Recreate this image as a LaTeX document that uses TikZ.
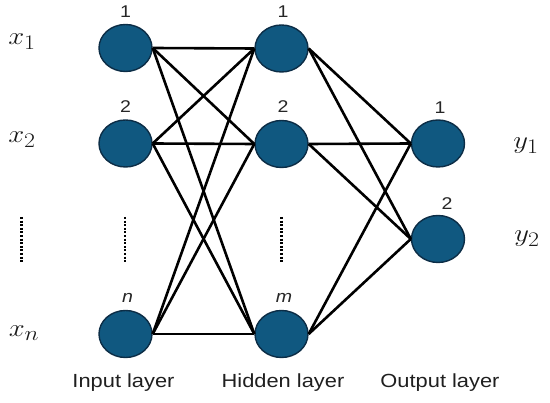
\documentclass[tikz,border=0pt]{standalone}
\usepackage{fontspec}
\setsansfont{Liberation Sans}
\usetikzlibrary{shapes.geometric}
\definecolor{neuronfill}{RGB}{16,88,128}
\definecolor{neurondraw}{RGB}{12,45,70}
\tikzset{
  neuron/.style={ellipse, draw=neurondraw, fill=neuronfill, line width=1.4pt, minimum width=53pt, minimum height=47pt, inner sep=0pt},
  conn/.style={line width=2.6pt, black},
  numlab/.style={font=\sffamily\fontsize{17}{19}\selectfont, inner sep=0pt, text=black!85},
  varlab/.style={font=\fontsize{29}{32}\selectfont, inner sep=0pt, text=black!90},
  layerlab/.style={font=\sffamily\fontsize{19}{22}\selectfont, inner sep=0pt, text=black!88},
  vdots/.style={line width=2.8pt, dash pattern=on 2pt off 1.6pt}
}
\newcommand{\hs}[1]{\scalebox{1.15}[1]{#1}}
\begin{document}
\begin{tikzpicture}[x=1pt,y=-1pt]
\useasboundingbox (0,0) rectangle (550,403);
% nodes
\node[neuron] (i1) at (125.5,48) {};
\node[neuron] (i2) at (125.5,143.5) {};
\node[neuron] (in) at (125.5,334) {};
\node[neuron] (h1) at (281.5,48.5) {};
\node[neuron] (h2) at (281.5,144) {};
\node[neuron] (hm) at (281.5,334) {};
\node[neuron] (o1) at (438,143.5) {};
\node[neuron] (o2) at (438,239) {};
% connections input -> hidden
\foreach \a in {i1,i2,in}{
  \foreach \b in {h1,h2,hm}{
    \draw[conn] (\a.east) -- (\b.west);
  }
}
% hidden -> output
\foreach \a in {h1,h2,hm}{
  \foreach \b in {o1,o2}{
    \draw[conn] (\a.east) -- (\b.west);
  }
}
% number labels
\node[numlab] (li1) at (125.5,12) {\hs{1}};
\node[numlab] (li2) at (125.5,107) {\hs{2}};
\node[numlab] (lin) at (127.5,298) {\hs{\itshape n}};
\node[numlab] (lh1) at (283,12) {\hs{1}};
\node[numlab] (lh2) at (283,107) {\hs{2}};
\node[numlab] (lhm) at (284,298) {\hs{\itshape m}};
\node[numlab] (lo1) at (440,108) {\hs{1}};
\node[numlab] (lo2) at (447,204) {\hs{2}};
% variable labels
\node[varlab] (x1) at (22,42) {\hs{$x_1$}};
\node[varlab] (x2) at (22,140) {\hs{$x_2$}};
\node[varlab] (xn) at (24,333) {\hs{$x_n$}};
\node[varlab] (y1) at (526,146) {\hs{$y_1$}};
\node[varlab] (y2) at (527,239) {\hs{$y_2$}};
% vertical dots
\coordinate (d1a) at (21.5,217); \coordinate (d1b) at (21.5,263);
\coordinate (d2a) at (125,217); \coordinate (d2b) at (125,263);
\coordinate (d3a) at (281.5,217); \coordinate (d3b) at (281.5,263);
\draw[vdots] (d1a) -- (d1b);
\draw[vdots] (d2a) -- (d2b);
\draw[vdots] (d3a) -- (d3b);
% layer labels
\node[layerlab] (Li) at (123.5,383) {\hs{Input layer}};
\node[layerlab] (Lh) at (283,383) {\hs{Hidden layer}};
\node[layerlab] (Lo) at (440,383) {\hs{Output layer}};
\end{tikzpicture}
\end{document}
